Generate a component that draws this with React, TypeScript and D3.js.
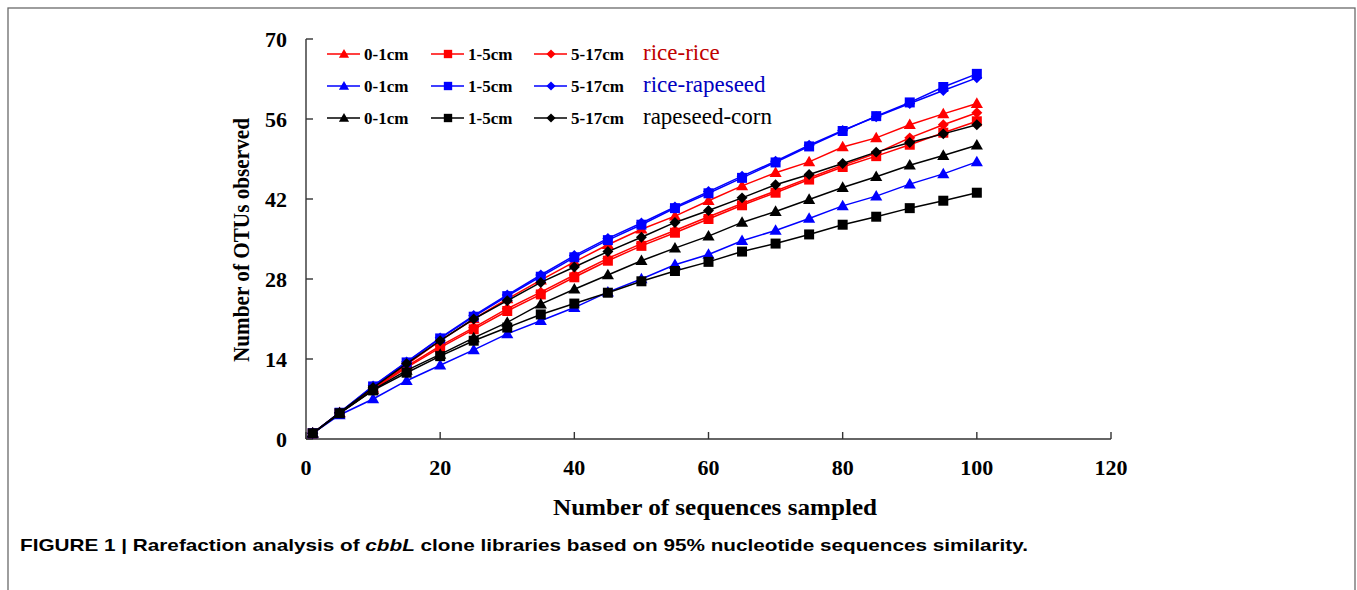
import React from 'react';
import * as d3 from 'd3';

// sequences sampled
const samples = [1, 5, 10, 15, 20, 25, 30, 35, 40, 45, 50, 55, 60, 65, 70, 75, 80, 85, 90, 95, 100];

const riceRice01 = [1, 4.6, 8.9, 13.0, 17.2, 21.0, 24.5, 27.8, 31.0, 34.0, 36.7, 39.0, 41.7, 44.3, 46.6, 48.5, 51.1, 52.7, 55.0, 56.9, 58.7];
const riceRice15 = [1, 4.5, 8.7, 12.5, 16.0, 19.2, 22.4, 25.3, 28.3, 31.2, 33.8, 36.1, 38.5, 40.9, 43.1, 45.4, 47.6, 49.5, 51.5, 53.6, 55.6];
const riceRice517 = [1, 4.5, 8.8, 12.7, 16.3, 19.5, 22.8, 25.7, 28.7, 31.6, 34.2, 36.5, 38.9, 41.2, 43.4, 45.7, 47.9, 50.0, 52.7, 55.0, 57.1];
const riceRape01 = [1, 4.2, 7.0, 10.2, 12.9, 15.6, 18.4, 20.7, 23.0, 25.7, 28.0, 30.5, 32.3, 34.7, 36.5, 38.6, 40.8, 42.5, 44.6, 46.4, 48.5];
const riceRape15 = [1, 4.6, 9.2, 13.4, 17.6, 21.4, 25.0, 28.4, 31.8, 34.8, 37.5, 40.4, 43.0, 45.7, 48.4, 51.2, 53.9, 56.5, 58.9, 61.6, 63.9];
const riceRape517 = [1, 4.6, 9.3, 13.5, 17.7, 21.6, 25.2, 28.7, 32.1, 35.1, 37.8, 40.6, 43.3, 46.0, 48.6, 51.4, 54.0, 56.4, 58.7, 61.0, 63.2];
const rapeCorn01 = [1, 4.5, 8.6, 12.0, 14.8, 17.7, 20.4, 23.6, 26.2, 28.7, 31.2, 33.4, 35.5, 37.9, 39.8, 41.9, 44.0, 45.9, 47.9, 49.6, 51.4];
const rapeCorn15 = [1, 4.5, 8.5, 11.6, 14.5, 17.2, 19.5, 21.8, 23.7, 25.6, 27.6, 29.4, 31.0, 32.8, 34.2, 35.8, 37.5, 38.9, 40.4, 41.7, 43.1];
const rapeCorn517 = [1, 4.6, 9.0, 13.2, 17.2, 21.0, 24.2, 27.4, 30.1, 32.8, 35.3, 37.9, 40.0, 42.2, 44.5, 46.3, 48.2, 50.2, 51.9, 53.4, 55.0];

const depths = ['0-1cm', '1-5cm', '5-17cm'];
const groups = ['rice-rice', 'rice-rapeseed', 'rapeseed-corn'];
const groupColors = ['#ff0000', '#0000ff', '#000000'];
const groupLabelColors = ['#c00000', '#0000c0', '#000000'];
const markers = ['triangle', 'square', 'diamond'];

const xTicks = [0, 20, 40, 60, 80, 100, 120];
const yTicks = [0, 14, 28, 42, 56, 70];

const seriesList = [
  { group: 0, depth: 0, values: riceRice01 },
  { group: 0, depth: 1, values: riceRice15 },
  { group: 0, depth: 2, values: riceRice517 },
  { group: 1, depth: 0, values: riceRape01 },
  { group: 1, depth: 1, values: riceRape15 },
  { group: 1, depth: 2, values: riceRape517 },
  { group: 2, depth: 0, values: rapeCorn01 },
  { group: 2, depth: 1, values: rapeCorn15 },
  { group: 2, depth: 2, values: rapeCorn517 },
];

const serif = '"Liberation Serif", "Times New Roman", serif';
const sans = '"Liberation Sans", Arial, sans-serif';

const markerPath = (kind: string, scale = 1) => {
  if (kind === 'triangle') return d3.symbol(d3.symbolTriangle, 64 * scale)()!;
  if (kind === 'square') return d3.symbol(d3.symbolSquare, 100 * scale)()!;
  return d3.symbol(d3.symbolSquare, 60 * scale)()!;
};

const Marker = ({ kind, x, y, color, scale = 1 }: any) => (
  <path
    d={markerPath(kind, scale)}
    transform={`translate(${x},${y})${kind === 'diamond' ? ' rotate(45)' : kind === 'triangle' ? ' translate(0,0.8)' : ''}`}
    fill={color}
  />
);

export default function App() {
  const x = d3.scaleLinear().domain([0, 120]).range([306, 1111]);
  const y = d3.scaleLinear().domain([0, 70]).range([439, 39]);
  const line = d3
    .line<number>()
    .x((_, i) => x(samples[i]))
    .y((d) => y(d));

  const legendRows = [54, 86, 118];
  const legendCols = [327, 431, 534];

  return (
    <svg
      width={1357}
      height={590}
      style={{ position: 'absolute', left: 0, top: 0, background: '#fff' }}
    >
      <rect x={8} y={8} width={1347} height={640} fill="none" stroke="#6a6a6a" strokeWidth={1.3} />

      {/* axes */}
      <g stroke="#333" strokeWidth={1.4} fill="none">
        <line x1={x(0)} x2={x(120)} y1={y(0)} y2={y(0)} />
        <line x1={x(0)} x2={x(0)} y1={y(0)} y2={y(70)} />
        {xTicks.map((t) => (
          <line key={'xt' + t} x1={x(t)} x2={x(t)} y1={y(0)} y2={y(0) - 7} />
        ))}
        {yTicks.map((t) => (
          <line key={'yt' + t} x1={x(0)} x2={x(0) + 7} y1={y(t)} y2={y(t)} />
        ))}
      </g>
      <g fontFamily={serif} fontWeight="bold" fontSize={22} fill="#000">
        {xTicks.map((t) => (
          <text key={'xl' + t} x={x(t)} y={475} textAnchor="middle">
            {t}
          </text>
        ))}
        {yTicks.map((t) => (
          <text key={'yl' + t} x={287} y={y(t) + 7.5} textAnchor="end">
            {t}
          </text>
        ))}
        <text x={553} y={515} fontSize={24} textLength={324} lengthAdjust="spacingAndGlyphs">
          Number of sequences sampled
        </text>
        <text
          transform="translate(249,240) rotate(-90)"
          textAnchor="middle"
          fontSize={24}
          textLength={244}
          lengthAdjust="spacingAndGlyphs"
        >
          Number of OTUs observed
        </text>
      </g>

      {/* series */}
      {seriesList.map((s, si) => (
        <g key={'s' + si}>
          <path d={line(s.values)!} fill="none" stroke={groupColors[s.group]} strokeWidth={1.5} />
          {s.values.map((v, i) => (
            <Marker key={i} kind={markers[s.depth]} x={x(samples[i])} y={y(v)} color={groupColors[s.group]} />
          ))}
        </g>
      ))}

      {/* legend */}
      {groups.map((g, gi) => (
        <g key={g}>
          {depths.map((d, di) => (
            <g key={d}>
              <line
                x1={legendCols[di]}
                x2={legendCols[di] + 33}
                y1={legendRows[gi]}
                y2={legendRows[gi]}
                stroke={groupColors[gi]}
                strokeWidth={1.5}
              />
              <Marker kind={markers[di]} x={legendCols[di] + 17} y={legendRows[gi]} color={groupColors[gi]} scale={0.7} />
              <text
                x={legendCols[di] + 37}
                y={legendRows[gi] + 5.5}
                fontFamily={serif}
                fontWeight="bold"
                fontSize={17}
              >
                {d}
              </text>
            </g>
          ))}
          <text x={643} y={legendRows[gi] + 6} fontFamily={serif} fontSize={23} fill={groupLabelColors[gi]}>
            {g}
          </text>
        </g>
      ))}

      <text x={20} y={551} fontFamily={sans} fontWeight="bold" fontSize={17} textLength={1008} lengthAdjust="spacingAndGlyphs">
        FIGURE 1 | Rarefaction analysis of <tspan fontStyle="italic">cbbL</tspan> clone libraries based on 95% nucleotide sequences similarity.
      </text>
    </svg>
  );
}
